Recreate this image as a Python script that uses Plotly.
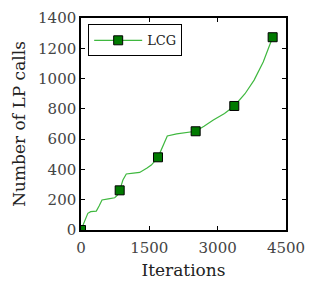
import plotly.graph_objects as go

# LCG curve (hand-read)
iters = [0, 60, 150, 213, 336, 400, 461, 600, 740, 800, 849, 920, 994, 1150, 1288,
         1450, 1543, 1690, 1800, 1894, 2100, 2348, 2517, 2700, 2905, 3150, 3365,
         3600, 3800, 4000, 4207]
lp_calls = [0, 40, 110, 121, 125, 160, 198, 205, 213, 230, 262, 330, 370, 375, 380,
            410, 429, 480, 560, 621, 635, 643, 652, 685, 727, 770, 819,
            900, 990, 1110, 1273]

# markers
mark_iters = [0, 849, 1690, 2517, 3365, 4207]
mark_calls = [0, 262, 480, 652, 819, 1273]

x_ticks = [0, 1500, 3000, 4500]
y_ticks = [0, 200, 400, 600, 800, 1000, 1200, 1400]

FONT = "DejaVu Serif"
LINE_C = "#3fb83f"
MARK_C = "#007a00"

fig = go.Figure()
fig.add_trace(go.Scatter(x=iters, y=lp_calls, mode="lines",
                         line=dict(color=LINE_C, width=1.2),
                         showlegend=False, hoverinfo="skip"))
fig.add_trace(go.Scatter(x=mark_iters, y=mark_calls, mode="markers", name="LCG",
                         marker=dict(symbol="square", size=9, color=MARK_C,
                                     line=dict(color="black", width=1)),
                         showlegend=False))
# legend sample
fig.add_trace(go.Scatter(x=[None], y=[None], mode="lines+markers", name="LCG",
                         line=dict(color=LINE_C, width=1.2),
                         marker=dict(symbol="square", size=9, color=MARK_C,
                                     line=dict(color="black", width=1))))

axis_common = dict(showline=True, linecolor="black", linewidth=1.5, mirror="ticks",
                   ticks="inside", ticklen=4, tickwidth=1.2, tickcolor="black",
                   showgrid=False, zeroline=False, automargin=False,
                   tickfont=dict(family=FONT, size=15, color="#444"))

# page body has an 8px margin; figure sized to fit the window
fig.update_layout(
    width=308, height=283,
    margin=dict(l=73, r=30, t=10, b=61),
    paper_bgcolor="white", plot_bgcolor="white",
    font=dict(family=FONT, size=15, color="black"),
    xaxis=dict(range=[0, 4500], tickvals=x_ticks, ticktext=[str(v) for v in x_ticks],
               ticklabelstandoff=3,
               title=dict(text="Iterations", font=dict(family=FONT, size=17, color="#222"), standoff=8),
               **axis_common),
    yaxis=dict(range=[0, 1400], tickvals=y_ticks, ticktext=[str(v) for v in y_ticks],
               title=dict(text="Number of LP calls", font=dict(family=FONT, size=17, color="#222"), standoff=8),
               **axis_common),
    legend=dict(x=0.035, y=0.97, xanchor="left", yanchor="top",
                bordercolor="black", borderwidth=1, bgcolor="white",
                itemwidth=48,
                font=dict(family=FONT, size=13, color="#222")),
)

fig.write_html("out.html")
